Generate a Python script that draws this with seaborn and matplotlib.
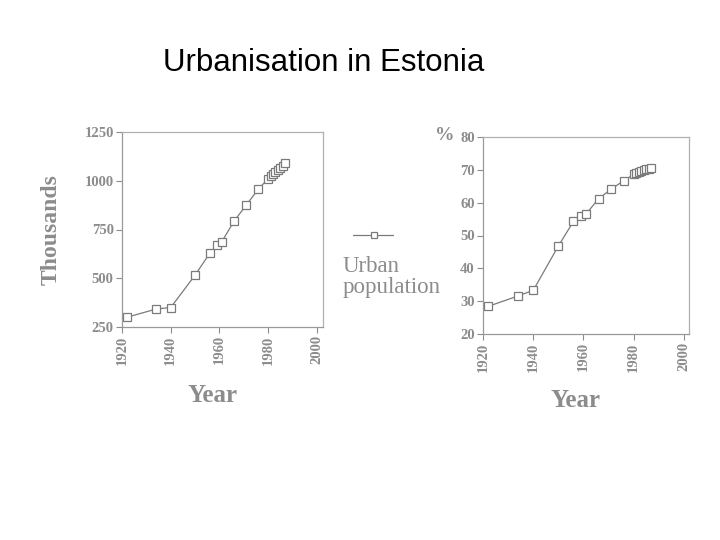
import matplotlib
matplotlib.use("Agg")
import matplotlib.pyplot as plt
from matplotlib.lines import Line2D
import seaborn as sns

# Urban population of Estonia
years = [1922, 1934, 1940, 1950, 1956, 1959, 1961, 1966, 1971, 1976,
         1980, 1981, 1982, 1983, 1984, 1985, 1986, 1987]
urban_thousands = [300, 342, 350, 516, 628, 670, 688, 793, 875, 958,
                   1010, 1022, 1034, 1045, 1056, 1066, 1077, 1090]
urban_percent = [28.4, 31.6, 33.3, 46.8, 54.3, 55.8, 56.5, 61.2, 64.1, 66.7,
                 68.6, 69.0, 69.4, 69.7, 70.0, 70.2, 70.4, 70.5]
year_ticks = [1920, 1940, 1960, 1980, 2000]
left_ticks = [250, 500, 750, 1000, 1250]
right_ticks = [20, 30, 40, 50, 60, 70, 80]

sns.set_theme(style="white")
plt.rcParams['font.family'] = ['Liberation Serif', 'DejaVu Serif']

GRAY = "#8c8c8c"
LINE = "#7a7a7a"

fig = plt.figure(figsize=(7.2, 5.4), dpi=100)
fig.patch.set_facecolor("white")

fig.text(163 / 720, 1 - 63 / 540, "Urbanisation in Estonia", ha="left", va="center",
         fontsize=22.5, family=['Liberation Sans', 'DejaVu Sans'], color="black")


def style_axes(ax, yticks, ylim, xmax, label_y):
    sns.despine(ax=ax, top=False, right=False)
    for side, sp in ax.spines.items():
        sp.set_color("#b0b0b0" if side in ("top", "right") else "#999999")
        sp.set_linewidth(0.9)
    ax.set_xlim(1920, xmax)
    ax.set_ylim(*ylim)
    ax.set_xticks(year_ticks)
    ax.set_yticks(yticks)
    ax.tick_params(axis="x", rotation=90, labelsize=10.5, colors=GRAY, length=4,
                   width=0.8, direction="out", bottom=True, pad=2)
    ax.tick_params(axis="y", labelsize=10.5, colors=GRAY, length=4, width=0.8,
                   direction="out", left=True, pad=2)
    for lbl in ax.get_xticklabels() + ax.get_yticklabels():
        lbl.set_fontweight("bold")
    ax.set_xlabel("Year", fontsize=18, fontweight="bold", color=GRAY)
    ax.xaxis.set_label_coords(0.45, label_y)
    ax.set_ylabel("")
    ax.grid(False)


marker_kw = dict(marker="s", markersize=5.2, markerfacecolor="white",
                 markeredgecolor=LINE, markeredgewidth=0.9, color=LINE, linewidth=0.9)

ax1 = fig.add_axes([122 / 720, 1 - 327 / 540, 201 / 720, 195 / 540])
sns.lineplot(x=years, y=urban_thousands, ax=ax1, **marker_kw)
style_axes(ax1, left_ticks, (250, 1250), 2002.5, -0.29)
ax1.set_ylabel("Thousands", fontsize=17, fontweight="bold", color=GRAY, labelpad=16)

ax2 = fig.add_axes([483 / 720, 1 - 334 / 540, 206 / 720, 197 / 540])
sns.lineplot(x=years, y=urban_percent, ax=ax2, **marker_kw)
style_axes(ax2, right_ticks, (20, 80), 2002, -0.28)
fig.text(445 / 720, 1 - 135 / 540, "%", fontsize=14, fontweight="bold", color=GRAY,
         ha="center", va="center")

# legend key drawn between the panels
fig.add_artist(Line2D([353 / 720, 393 / 720], [1 - 235 / 540, 1 - 235 / 540],
                      transform=fig.transFigure, color=LINE, linewidth=0.9))
fig.add_artist(Line2D([374 / 720], [1 - 235 / 540], transform=fig.transFigure,
                      marker="s", markersize=5, markerfacecolor="white",
                      markeredgecolor=LINE, markeredgewidth=0.9, linestyle="none"))
fig.text(343 / 720, 1 - 277 / 540, "Urban\npopulation", fontsize=16.5, color=GRAY,
         ha="left", va="center", linespacing=0.95)

fig.savefig("out.png", dpi=100, facecolor="white")
